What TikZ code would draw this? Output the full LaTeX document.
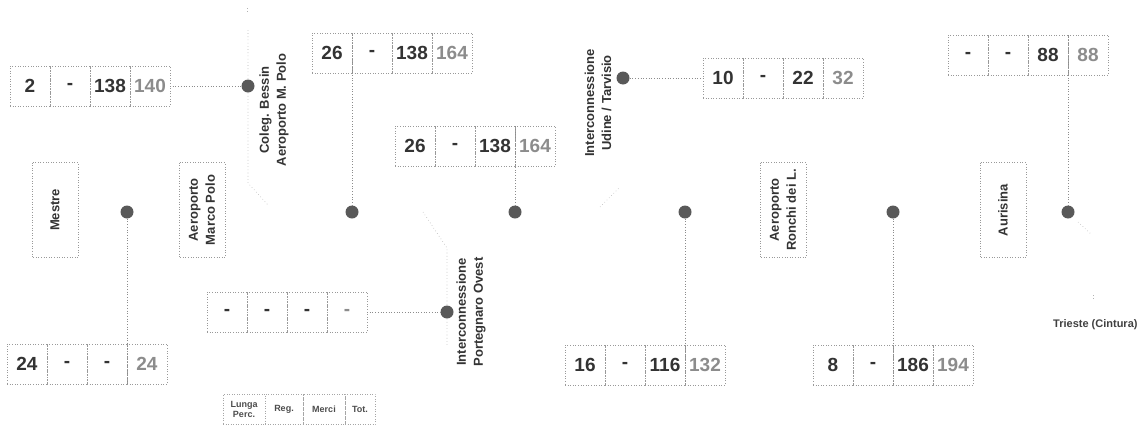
\documentclass[tikz,border=0pt]{standalone}
\usepackage{fontspec}
\setmainfont{Liberation Sans}
\usetikzlibrary{positioning}
\begin{document}
\begin{tikzpicture}[x=1pt,y=1pt,yscale=-1,
  cell/.style={draw=black!40,line width=0.6pt,dash pattern=on 0.6pt off 2pt,minimum width=40pt,minimum height=40pt,inner sep=0pt,outer sep=0pt,font=\fontsize{19}{19}\selectfont\bfseries,text=black!80},
  tot/.style={cell,text=black!45},
  stn/.style={circle,fill=black!65,minimum size=13pt,inner sep=0pt},
  link/.style={draw=black!45,line width=0.7pt,dash pattern=on 0.7pt off 2pt},
  track/.style={draw=black!30,line width=0.6pt,dash pattern=on 0.6pt off 2.6pt},
  namebox/.style={draw=black!40,line width=0.6pt,dash pattern=on 0.6pt off 2pt,rotate=90,minimum width=95pt,minimum height=46pt,align=center,font=\fontsize{13}{17}\selectfont\bfseries,text=black!80},
  namelbl/.style={rotate=90,align=center,inner sep=0pt,font=\fontsize{13}{17}\selectfont\bfseries,text=black!80},
  keycell/.style={draw=black!35,line width=0.5pt,dash pattern=on 0.5pt off 2pt,minimum height=30pt,inner sep=1pt,outer sep=0pt,align=center,font=\fontsize{9}{10}\selectfont\bfseries,text=black!70}]
\useasboundingbox (0,0) rectangle (1141,426);

% stations on the line
\node[namebox] (mestre) at (55,210) {Mestre};
\node[namebox] (marcopolo) at (202,210) {Aeroporto\\Marco Polo};
\node[namebox] (ronchi) at (783,210) {Aeroporto\\Ronchi dei L.};
\node[namebox] (aurisina) at (1003,210) {Aurisina};
\node[namelbl] (bessinlbl) at (274,110) {Coleg. Bessin\\Aeroporto M. Polo};
\node[namelbl] (udinelbl) at (598,103) {Interconnessione\\Udine / Tarvisio};
\node[namelbl] (portlbl) at (471,312) {Interconnessione\\Portegnaro Ovest};
\node[anchor=west,inner sep=0pt,font=\fontsize{11}{11}\selectfont\bfseries,text=black!75] (trieste) at (1053,325) {Trieste (Cintura)};

% dots
\node[stn] (dmestre) at (127,212) {};
\node[stn] (dmid1) at (352,212) {};
\node[stn] (dmid2) at (515,212) {};
\node[stn] (dmid3) at (685,212) {};
\node[stn] (dronchi) at (893,212) {};
\node[stn] (daur) at (1068,212) {};
\node[stn] (dbessin) at (248,86) {};
\node[stn] (dudine) at (623,78) {};
\node[stn] (dport) at (447,312) {};

% flow boxes
\node[cell] (a1) at (30,86) {2};
\node[cell] (a2) [right=0pt of a1] {-};
\node[cell] (a3) [right=0pt of a2] {138};
\node[tot] (a4) [right=0pt of a3] {140};

\node[cell] (c1) at (332,53) {26};
\node[cell] (c2) [right=0pt of c1] {-};
\node[cell] (c3) [right=0pt of c2] {138};
\node[tot] (c4) [right=0pt of c3] {164};

\node[cell] (b1) at (415,146) {26};
\node[cell] (b2) [right=0pt of b1] {-};
\node[cell] (b3) [right=0pt of b2] {138};
\node[tot] (b4) [right=0pt of b3] {164};

\node[cell] (e1) at (723,78) {10};
\node[cell] (e2) [right=0pt of e1] {-};
\node[cell] (e3) [right=0pt of e2] {22};
\node[tot] (e4) [right=0pt of e3] {32};

\node[cell] (f1) at (968,55) {-};
\node[cell] (f2) [right=0pt of f1] {-};
\node[cell] (f3) [right=0pt of f2] {88};
\node[tot] (f4) [right=0pt of f3] {88};

\node[cell] (g1) at (227,312) {-};
\node[cell] (g2) [right=0pt of g1] {-};
\node[cell] (g3) [right=0pt of g2] {-};
\node[tot] (g4) [right=0pt of g3] {-};

\node[cell] (k1) at (27,364) {24};
\node[cell] (k2) [right=0pt of k1] {-};
\node[cell] (k3) [right=0pt of k2] {-};
\node[tot] (k4) [right=0pt of k3] {24};

\node[cell] (h1) at (585,365) {16};
\node[cell] (h2) [right=0pt of h1] {-};
\node[cell] (h3) [right=0pt of h2] {116};
\node[tot] (h4) [right=0pt of h3] {132};

\node[cell] (i1) at (833,365) {8};
\node[cell] (i2) [right=0pt of i1] {-};
\node[cell] (i3) [right=0pt of i2] {186};
\node[tot] (i4) [right=0pt of i3] {194};

% key
\node[keycell,minimum width=42pt] (key1) at (244,409) {Lunga\\Perc.};
\node[keycell,minimum width=38pt] (key2) [right=0pt of key1] {Reg.};
\node[keycell,minimum width=42pt] (key3) [right=0pt of key2] {Merci};
\node[keycell,minimum width=30pt] (key4) [right=0pt of key3] {Tot.};

% links dot to box
\draw[link] (a4.east) -- (dbessin);
\draw[link] (dudine) -- (e1.west);
\draw[link] (g4.east) -- (dport);
\draw[link] (dmid1) -- (c1.north east);
\draw[link] (dmid2) -- (b3.north east);
\draw[link] (daur) -- (f3.north east);
\draw[link] (dmestre) -- (k3.south east);
\draw[link] (dmid3) -- (h3.south east);
\draw[link] (dronchi) -- (i2.south east);

% faint track pieces
\coordinate (t1a) at (248,30);
\coordinate (t1b) at (268,205);
\draw[track] (t1a) -- (dbessin) -- (248,183) -- (t1b);
\draw[track] (247,8) -- (247,12);
\coordinate (t2a) at (423,212);
\coordinate (t2b) at (447,347);
\draw[track] (t2a) -- (447,248) -- (dport) -- (t2b);
\coordinate (t3a) at (600,207);
\coordinate (t3b) at (620,187);
\draw[track] (t3a) -- (t3b);
\coordinate (t4a) at (1078,222);
\coordinate (t4b) at (1092,235);
\draw[track] (t4a) -- (t4b);
\draw[track] (1093,295) -- (1093,299);
\end{tikzpicture}
\end{document}
